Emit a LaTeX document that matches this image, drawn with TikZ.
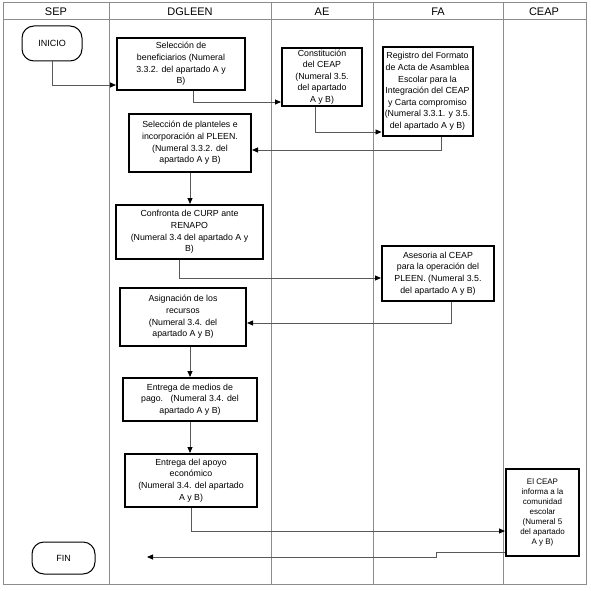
\documentclass[tikz,border=0pt]{standalone}
\usepackage{fontspec}
\setmainfont{Liberation Sans}
\usetikzlibrary{arrows.meta}

\tikzset{
  carril/.style={draw=black!45, line width=1pt},
  proceso/.style={draw, line width=2pt, align=center, inner sep=0pt, font=\fontsize{8.8}{11.6}\selectfont},
  terminal/.style={draw, line width=1pt, rounded corners=12pt, inner sep=0pt, font=\fontsize{9}{11}\selectfont},
  flecha/.style={draw=black!65, line width=0.8pt, -{Triangle[length=6pt,width=5pt,color=black]}},
}

\begin{document}
\begin{tikzpicture}[x=1pt,y=-1pt]
        \useasboundingbox (0,0) rectangle (591,591);
        \draw[carril] (3,3) rectangle (586,584);
        \draw[carril] (3,20) -- (586,20);
        \foreach \x in {109,271,373,503}
          \draw[carril] (\x,3) -- (\x,584);
        \foreach \x/\t in {56/SEP,190/DGLEEN,322/AE,438/FA,544/CEAP}
          \node[font=\fontsize{11}{13}\selectfont] at (\x,11.5) {\t};

        \node[terminal, minimum width=60pt, minimum height=35pt] (inicio) at (52,43.5) {INICIO};
        \node[proceso, minimum width=128pt, minimum height=52pt] (sel) at (181,64)
          {Selección de\\beneficiarios (Numeral\\3.3.2. del apartado A y\\B)};
        \node[proceso, minimum width=80pt, minimum height=58pt] (const) at (322,77)
          {Constitución\\del CEAP\\(Numeral 3.5.\\del apartado\\A y B)};
        \node[proceso, minimum width=90pt, minimum height=89pt] (reg) at (427.5,91.5)
          {Registro del Formato\\de Acta de Asamblea\\Escolar para la\\Integración del CEAP\\y Carta compromiso\\(Numeral 3.3.1. y 3.5.\\del apartado A y B)};
        \node[proceso, minimum width=122pt, minimum height=58pt] (plant) at (190,143)
          {Selección de planteles e\\incorporación al PLEEN.\\(Numeral 3.3.2. del\\apartado A y B)};
        \node[proceso, minimum width=147pt, minimum height=54pt] (curp) at (189.5,232)
          {Confronta de CURP ante\\RENAPO\\(Numeral 3.4 del apartado A y\\B)};
        \node[proceso, minimum width=112pt, minimum height=55pt] (ases) at (438,273.5)
          {Asesoria al CEAP\\para la operación del\\PLEEN. (Numeral 3.5.\\del apartado A y B)};
        \node[proceso, minimum width=126pt, minimum height=58pt] (asig) at (183,317)
          {Asignación de los\\recursos\\(Numeral 3.4. del\\apartado A y B)};
        \node[proceso, minimum width=134pt, minimum height=43pt] (medios) at (190,399.5)
          {Entrega de medios de\\pago.\ \ \ (Numeral 3.4. del\\apartado A y B)};
        \node[proceso, minimum width=132pt, minimum height=53pt] (apoyo) at (191,480.5)
          {Entrega del apoyo\\económico\\(Numeral 3.4. del apartado\\A y B)};
        \node[proceso, minimum width=73pt, minimum height=87pt, font=\fontsize{8}{10}\selectfont] (ceapbox) at (542.5,512.5)
          {El CEAP\\informa a la\\comunidad\\escolar\\(Numeral 5\\del apartado\\A y B)};
        \node[terminal, minimum width=63pt, minimum height=32pt] (fin) at (63.5,558) {FIN};
        \coordinate (finflecha) at (147,557);

        \draw[flecha] (inicio.south) |- ([yshift=-21pt]sel.west);
        \draw[flecha] ([xshift=12pt]sel.south) |- ([yshift=-25pt]const.west);
        \draw[flecha] ([xshift=-7pt]const.south) |- ([yshift=-40.5pt]reg.west);
        \draw[flecha] ([xshift=13.5pt]reg.south) |- ([yshift=-7pt]plant.east);
        \draw[flecha] (plant.south) -- (curp.north -| plant.south);
        \draw[flecha] ([xshift=-10.5pt]curp.south) |- ([yshift=-4.5pt]ases.west);
        \draw[flecha] ([xshift=13pt]ases.south) |- ([yshift=-6pt]asig.east);
        \draw[flecha] (asig.south -| medios.north) -- (medios.north);
        \draw[flecha] (medios.south) -- (apoyo.north -| medios.south);
        \draw[flecha] (apoyo.south) |- ([yshift=-18.5pt]ceapbox.west);
        \draw[flecha] ([yshift=-39.5pt]ceapbox.west) -- ++(-69,0) |- (finflecha);
    \end{tikzpicture}
\end{document}
